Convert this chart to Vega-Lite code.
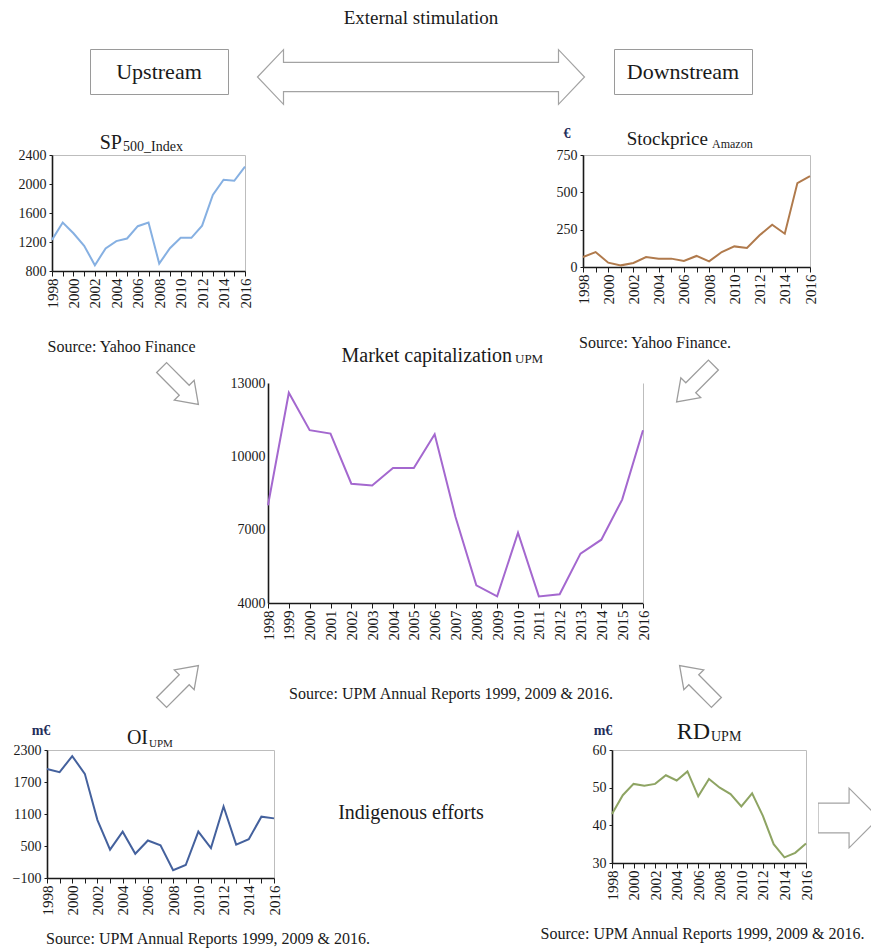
{
  "$schema": "https://vega.github.io/schema/vega-lite/v6.json",
  "background": "white",
  "padding": 0,
  "datasets": {
    "sp500": [
      {"year": 1998, "value": 1229}, {"year": 1999, "value": 1469}, {"year": 2000, "value": 1320}, {"year": 2001, "value": 1148},
      {"year": 2002, "value": 880}, {"year": 2003, "value": 1112}, {"year": 2004, "value": 1212}, {"year": 2005, "value": 1248},
      {"year": 2006, "value": 1418}, {"year": 2007, "value": 1468}, {"year": 2008, "value": 903}, {"year": 2009, "value": 1115},
      {"year": 2010, "value": 1258}, {"year": 2011, "value": 1258}, {"year": 2012, "value": 1426}, {"year": 2013, "value": 1848},
      {"year": 2014, "value": 2059}, {"year": 2015, "value": 2044}, {"year": 2016, "value": 2239}
    ],
    "amazon": [
      {"year": 1998, "value": 67}, {"year": 1999, "value": 100}, {"year": 2000, "value": 29}, {"year": 2001, "value": 11},
      {"year": 2002, "value": 27}, {"year": 2003, "value": 67}, {"year": 2004, "value": 56}, {"year": 2005, "value": 56},
      {"year": 2006, "value": 40}, {"year": 2007, "value": 74}, {"year": 2008, "value": 38}, {"year": 2009, "value": 100},
      {"year": 2010, "value": 138}, {"year": 2011, "value": 127}, {"year": 2012, "value": 212}, {"year": 2013, "value": 283},
      {"year": 2014, "value": 223}, {"year": 2015, "value": 562}, {"year": 2016, "value": 609}
    ],
    "marketcap": [
      {"year": 1998, "value": 8000}, {"year": 1999, "value": 12600}, {"year": 2000, "value": 11070}, {"year": 2001, "value": 10930},
      {"year": 2002, "value": 8880}, {"year": 2003, "value": 8810}, {"year": 2004, "value": 9520}, {"year": 2005, "value": 9520},
      {"year": 2006, "value": 10900}, {"year": 2007, "value": 7520}, {"year": 2008, "value": 4720}, {"year": 2009, "value": 4270},
      {"year": 2010, "value": 6880}, {"year": 2011, "value": 4270}, {"year": 2012, "value": 4360}, {"year": 2013, "value": 6020},
      {"year": 2014, "value": 6590}, {"year": 2015, "value": 8230}, {"year": 2016, "value": 11070}
    ],
    "oi": [
      {"year": 1998, "value": 1943}, {"year": 1999, "value": 1885}, {"year": 2000, "value": 2185}, {"year": 2001, "value": 1853},
      {"year": 2002, "value": 986}, {"year": 2003, "value": 431}, {"year": 2004, "value": 769}, {"year": 2005, "value": 354},
      {"year": 2006, "value": 603}, {"year": 2007, "value": 514}, {"year": 2008, "value": 48}, {"year": 2009, "value": 144},
      {"year": 2010, "value": 769}, {"year": 2011, "value": 462}, {"year": 2012, "value": 1241}, {"year": 2013, "value": 526},
      {"year": 2014, "value": 628}, {"year": 2015, "value": 1050}, {"year": 2016, "value": 1018}
    ],
    "rd": [
      {"year": 1998, "value": 43}, {"year": 1999, "value": 48}, {"year": 2000, "value": 51}, {"year": 2001, "value": 50.5},
      {"year": 2002, "value": 51}, {"year": 2003, "value": 53.3}, {"year": 2004, "value": 51.9}, {"year": 2005, "value": 54.3},
      {"year": 2006, "value": 47.7}, {"year": 2007, "value": 52.3}, {"year": 2008, "value": 50}, {"year": 2009, "value": 48.3},
      {"year": 2010, "value": 45}, {"year": 2011, "value": 48.5}, {"year": 2012, "value": 42.5}, {"year": 2013, "value": 35},
      {"year": 2014, "value": 31.5}, {"year": 2015, "value": 32.7}, {"year": 2016, "value": 35.2}
    ]
  },
  "spacing": 0,
  "bounds": "full",
  "vconcat": [
    {
      "spacing": 0, "bounds": "flush",
      "hconcat": [
        {"width": 228, "height": 46.5, "mark": "point", "data": {"values": []}},
        {"width": 386, "height": 46.5, "data": {"values": [{"label": "External stimulation"}]}, "mark": {"type": "text", "fontSize": 19, "dy": -5}, "encoding": {"text": {"field": "label"}}}
      ]
    },
    {
      "spacing": 0, "bounds": "flush",
      "hconcat": [
        {"width": 90, "height": 77, "mark": "point", "data": {"values": []}},
        {"width": 138, "height": 45, "view": {"stroke": "#9a9a9a", "strokeWidth": 1}, "data": {"values": [{"label": "Upstream"}]}, "mark": {"type": "text", "fontSize": 22}, "encoding": {"text": {"field": "label"}}},
        {"width": 386, "height": 56, "data": {"values": [{"link": "Upstream - Downstream"}]}, "mark": {"type": "point", "shape": "M -1 0 L -0.841 -0.167 L -0.841 -0.089 L 0.841 -0.089 L 0.841 -0.167 L 1 0 L 0.841 0.167 L 0.841 0.089 L -0.841 0.089 L -0.841 0.167 Z", "size": 106929, "filled": true, "fill": "#ffffff", "stroke": "#a3a3a3", "strokeWidth": 1.2, "opacity": 1}, "encoding": {}},
        {"width": 138, "height": 45, "view": {"stroke": "#9a9a9a", "strokeWidth": 1}, "data": {"values": [{"label": "Downstream"}]}, "mark": {"type": "text", "fontSize": 22}, "encoding": {"text": {"field": "label"}}}
      ]
    },
    {
      "spacing": 0, "bounds": "flush",
      "hconcat": [
        {"width": 52, "height": 178.5, "mark": "point", "data": {"values": []}},
        {
          "width": 193, "height": 116,
          "view": {"stroke": "#bdbdbd"},
          "layer": [
            {
              "data": {"name": "sp500"},
              "mark": {"type": "line", "color": "#86b0e2", "strokeWidth": 2},
              "encoding": {
                "x": {"field": "year", "type": "quantitative", "scale": {"domain": [1998, 2016], "nice": false, "zero": false},
                      "axis": {"title": null, "values": [1998, 1999, 2000, 2001, 2002, 2003, 2004, 2005, 2006, 2007, 2008, 2009, 2010, 2011, 2012, 2013, 2014, 2015, 2016], "format": "d", "labelExpr": "datum.value % 2 === 0 ? datum.label : ''"}},
                "y": {"field": "value", "type": "quantitative", "scale": {"domain": [800, 2400], "nice": false, "zero": false},
                      "axis": {"title": null, "values": [800, 1200, 1600, 2000, 2400], "format": "d"}}
              }
            },
            {"data": {"values": [{"main": "SP", "sub": "500_Index"}]}, "mark": {"type": "text", "align": "right", "fontSize": 20, "dx": -26.5, "dy": -70}, "encoding": {"text": {"field": "main"}}},
            {"data": {"values": [{"main": "SP", "sub": "500_Index"}]}, "mark": {"type": "text", "align": "left", "fontSize": 14, "dx": -25.5, "dy": -66}, "encoding": {"text": {"field": "sub"}}}
          ]
        },
        {"width": 338, "height": 1, "mark": "point", "data": {"values": []}},
        {
          "width": 227, "height": 112,
          "view": {"stroke": "#bdbdbd"},
          "layer": [
            {
              "data": {"name": "amazon"},
              "mark": {"type": "line", "color": "#b07a4c", "strokeWidth": 2},
              "encoding": {
                "x": {"field": "year", "type": "quantitative", "scale": {"domain": [1998, 2016], "nice": false, "zero": false},
                      "axis": {"title": null, "values": [1998, 1999, 2000, 2001, 2002, 2003, 2004, 2005, 2006, 2007, 2008, 2009, 2010, 2011, 2012, 2013, 2014, 2015, 2016], "format": "d", "labelExpr": "datum.value % 2 === 0 ? datum.label : ''"}},
                "y": {"field": "value", "type": "quantitative", "scale": {"domain": [0, 750], "nice": false, "zero": false},
                      "axis": {"title": null, "values": [0, 250, 500, 750], "format": "d"}}
              }
            },
            {"data": {"values": [{"main": "Stockprice", "sub": "Amazon", "unit": "€"}]}, "mark": {"type": "text", "align": "right", "fontSize": 19, "dx": 11.5, "dy": -72}, "encoding": {"text": {"field": "main"}}},
            {"data": {"values": [{"main": "Stockprice", "sub": "Amazon", "unit": "€"}]}, "mark": {"type": "text", "align": "left", "fontSize": 12, "dx": 15.5, "dy": -67}, "encoding": {"text": {"field": "sub"}}},
            {"data": {"values": [{"main": "Stockprice", "sub": "Amazon", "unit": "€"}]}, "mark": {"type": "text", "fontSize": 14, "fontWeight": "bold", "color": "#1f2d5a", "dx": -129.5, "dy": -77}, "encoding": {"text": {"field": "unit"}}}
          ]
        }
      ]
    },
    {
      "spacing": 0, "bounds": "flush",
      "hconcat": [
        {"width": 157, "height": 267, "mark": "point", "data": {"values": []}},
        {
          "width": 46, "height": 6,
          "data": {"values": [{"source": "Source: Yahoo Finance"}]},
          "layer": [
            {"mark": {"type": "point", "shape": "M -1 -0.27 L 0.23 -0.27 L 0.23 -0.54 L 1 0 L 0.23 0.54 L 0.23 0.27 L -1 0.27 Z", "size": 2704, "angle": 45, "filled": true, "fill": "#ffffff", "stroke": "#9d9d9d", "strokeWidth": 1.3, "opacity": 1}, "encoding": {}},
            {"mark": {"type": "text", "fontSize": 16, "dx": -58.5, "dy": -39}, "encoding": {"text": {"field": "source"}}}
          ]
        },
        {"width": 65, "height": 1, "mark": "point", "data": {"values": []}},
        {
          "width": 375, "height": 220,
          "layer": [
            {
              "data": {"name": "marketcap"},
              "mark": {"type": "line", "color": "#a468cf", "strokeWidth": 2},
              "encoding": {
                "x": {"field": "year", "type": "quantitative", "scale": {"domain": [1998, 2016], "nice": false, "zero": false},
                      "axis": {"title": null, "values": [1998, 1999, 2000, 2001, 2002, 2003, 2004, 2005, 2006, 2007, 2008, 2009, 2010, 2011, 2012, 2013, 2014, 2015, 2016], "format": "d"}},
                "y": {"field": "value", "type": "quantitative", "scale": {"domain": [4000, 13000], "nice": false, "zero": false},
                      "axis": {"title": null, "orient": "left", "values": [4000, 7000, 10000, 13000], "format": "d", "ticks": false}}
              }
            },
            {
              "data": {"name": "marketcap"},
              "mark": {"type": "line", "strokeOpacity": 0},
              "encoding": {
                "y": {"field": "value", "type": "quantitative",
                      "axis": {"title": null, "orient": "right", "labels": false, "ticks": false, "domainColor": "#bdbdbd", "domainWidth": 1}}
              }
            },
            {"data": {"values": [{"main": "Market capitalization", "sub": "UPM"}]}, "mark": {"type": "text", "align": "right", "fontSize": 20, "dx": 56.5, "dy": -137}, "encoding": {"text": {"field": "main"}}},
            {"data": {"values": [{"main": "Market capitalization", "sub": "UPM"}]}, "mark": {"type": "text", "align": "left", "fontSize": 13, "dx": 59.5, "dy": -134}, "encoding": {"text": {"field": "sub"}}}
          ],
          "resolve": {"axis": {"y": "independent"}}
        },
        {"width": 29, "height": 1, "mark": "point", "data": {"values": []}},
        {
          "width": 46, "height": 1,
          "data": {"values": [{"source": "Source: Yahoo Finance."}]},
          "layer": [
            {"mark": {"type": "point", "shape": "M -1 -0.27 L 0.23 -0.27 L 0.23 -0.54 L 1 0 L 0.23 0.54 L 0.23 0.27 L -1 0.27 Z", "size": 2704, "angle": 135, "filled": true, "fill": "#ffffff", "stroke": "#9d9d9d", "strokeWidth": 1.3, "opacity": 1}, "encoding": {}},
            {"mark": {"type": "text", "fontSize": 16, "dx": -40, "dy": -41}, "encoding": {"text": {"field": "source"}}}
          ]
        }
      ]
    },
    {
      "spacing": 0, "bounds": "flush",
      "hconcat": [
        {"width": 157, "height": 68.5, "mark": "point", "data": {"values": []}},
        {"width": 46, "height": 68, "data": {"values": [{"link": "Operating income to market capitalization"}]}, "mark": {"type": "point", "shape": "M -1 -0.27 L 0.23 -0.27 L 0.23 -0.54 L 1 0 L 0.23 0.54 L 0.23 0.27 L -1 0.27 Z", "size": 2704, "angle": -45, "filled": true, "fill": "#ffffff", "stroke": "#9d9d9d", "strokeWidth": 1.3, "opacity": 1}, "encoding": {}},
        {"width": 32, "height": 1, "mark": "point", "data": {"values": []}},
        {"width": 432, "height": 68, "data": {"values": [{"source": "Source: UPM Annual Reports 1999, 2009 & 2016."}]}, "mark": {"type": "text", "fontSize": 16, "dy": 10}, "encoding": {"text": {"field": "source"}}},
        {"width": 8, "height": 1, "mark": "point", "data": {"values": []}},
        {"width": 46, "height": 68, "data": {"values": [{"link": "R&D to market capitalization"}]}, "mark": {"type": "point", "shape": "M -1 -0.27 L 0.23 -0.27 L 0.23 -0.54 L 1 0 L 0.23 0.54 L 0.23 0.27 L -1 0.27 Z", "size": 2704, "angle": 225, "filled": true, "fill": "#ffffff", "stroke": "#9d9d9d", "strokeWidth": 1.3, "opacity": 1}, "encoding": {}}
      ]
    },
    {
      "spacing": 0, "bounds": "flush",
      "hconcat": [
        {"width": 47, "height": 169, "mark": "point", "data": {"values": []}},
        {
          "width": 227, "height": 128,
          "view": {"stroke": "#bdbdbd"},
          "layer": [
            {
              "data": {"name": "oi"},
              "mark": {"type": "line", "color": "#44619d", "strokeWidth": 2},
              "encoding": {
                "x": {"field": "year", "type": "quantitative", "scale": {"domain": [1998, 2016], "nice": false, "zero": false},
                      "axis": {"title": null, "values": [1998, 1999, 2000, 2001, 2002, 2003, 2004, 2005, 2006, 2007, 2008, 2009, 2010, 2011, 2012, 2013, 2014, 2015, 2016], "format": "d", "labelExpr": "datum.value % 2 === 0 ? datum.label : ''"}},
                "y": {"field": "value", "type": "quantitative", "scale": {"domain": [-100, 2300], "nice": false, "zero": false},
                      "axis": {"title": null, "values": [-100, 500, 1100, 1700, 2300], "format": "d"}}
              }
            },
            {"data": {"values": [{"main": "OI", "sub": "UPM", "unit": "m€"}]}, "mark": {"type": "text", "align": "right", "fontSize": 20, "dx": -12.5, "dy": -76}, "encoding": {"text": {"field": "main"}}},
            {"data": {"values": [{"main": "OI", "sub": "UPM", "unit": "m€"}]}, "mark": {"type": "text", "align": "left", "fontSize": 11, "dx": -11.5, "dy": -70}, "encoding": {"text": {"field": "sub"}}},
            {"data": {"values": [{"main": "OI", "sub": "UPM", "unit": "m€"}]}, "mark": {"type": "text", "fontSize": 14, "fontWeight": "bold", "color": "#1f2d5a", "dx": -119.5, "dy": -83}, "encoding": {"text": {"field": "unit"}}}
          ]
        },
        {"width": 274, "height": 124, "data": {"values": [{"label": "Indigenous efforts"}]}, "mark": {"type": "text", "fontSize": 20, "dy": 1}, "encoding": {"text": {"field": "label"}}},
        {"width": 64, "height": 1, "mark": "point", "data": {"values": []}},
        {
          "width": 194, "height": 113,
          "view": {"stroke": "#bdbdbd"},
          "layer": [
            {
              "data": {"name": "rd"},
              "mark": {"type": "line", "color": "#8ea463", "strokeWidth": 2},
              "encoding": {
                "x": {"field": "year", "type": "quantitative", "scale": {"domain": [1998, 2016], "nice": false, "zero": false},
                      "axis": {"title": null, "values": [1998, 1999, 2000, 2001, 2002, 2003, 2004, 2005, 2006, 2007, 2008, 2009, 2010, 2011, 2012, 2013, 2014, 2015, 2016], "format": "d", "labelExpr": "datum.value % 2 === 0 ? datum.label : ''"}},
                "y": {"field": "value", "type": "quantitative", "scale": {"domain": [30, 60], "nice": false, "zero": false},
                      "axis": {"title": null, "values": [30, 40, 50, 60], "format": "d"}}
              }
            },
            {"data": {"values": [{"main": "RD", "sub": "UPM", "unit": "m€"}]}, "mark": {"type": "text", "align": "right", "fontSize": 24, "dx": 1, "dy": -75}, "encoding": {"text": {"field": "main"}}},
            {"data": {"values": [{"main": "RD", "sub": "UPM", "unit": "m€"}]}, "mark": {"type": "text", "align": "left", "fontSize": 14, "dx": 2, "dy": -70}, "encoding": {"text": {"field": "sub"}}},
            {"data": {"values": [{"main": "RD", "sub": "UPM", "unit": "m€"}]}, "mark": {"type": "text", "fontSize": 14, "fontWeight": "bold", "color": "#1f2d5a", "dx": -106, "dy": -76}, "encoding": {"text": {"field": "unit"}}}
          ]
        },
        {"width": 12, "height": 1, "mark": "point", "data": {"values": []}},
        {"width": 53, "height": 136, "data": {"values": [{"link": "R&D outward"}]}, "mark": {"type": "point", "clip": true, "shape": "M -0.87 -0.49 L 0.15 -0.49 L 0.15 -0.98 L 1.13 0 L 0.15 0.98 L 0.15 0.49 L -0.87 0.49 Z", "size": 3721, "filled": true, "fill": "#ffffff", "stroke": "#a3a3a3", "strokeWidth": 1.2, "opacity": 1}, "encoding": {}}
      ]
    },
    {
      "spacing": 0, "bounds": "flush",
      "hconcat": [
        {"width": 47, "height": 30, "mark": "point", "data": {"values": []}},
        {"width": 322, "height": 30, "data": {"values": [{"source": "Source: UPM Annual Reports 1999, 2009 & 2016."}]}, "mark": {"type": "text", "fontSize": 16, "dy": 5}, "encoding": {"text": {"field": "source"}}},
        {"width": 170, "height": 1, "mark": "point", "data": {"values": []}},
        {"width": 327, "height": 30, "data": {"values": [{"source": "Source: UPM Annual Reports 1999, 2009 & 2016."}]}, "mark": {"type": "text", "fontSize": 16}, "encoding": {"text": {"field": "source"}}}
      ]
    }
  ],
  "config": {
    "font": "Liberation Serif",
    "view": {"stroke": null},
    "text": {"font": "Liberation Serif", "color": "#1a1a1a"},
    "axis": {
      "grid": false,
      "domainColor": "#1a1a1a",
      "domainWidth": 1.6,
      "tickColor": "#1a1a1a",
      "labelColor": "#1a1a1a",
      "labelFont": "Liberation Serif",
      "labelFontSize": 14,
      "titleFont": "Liberation Serif"
    },
    "axisX": {"labelAngle": 270, "labelFontSize": 15, "tickSize": 5, "labelPadding": 2, "labelFlush": false, "labelOverlap": false},
    "axisY": {"tickSize": 3, "labelPadding": 3, "labelFlush": false, "labelOverlap": false}
  }
}
